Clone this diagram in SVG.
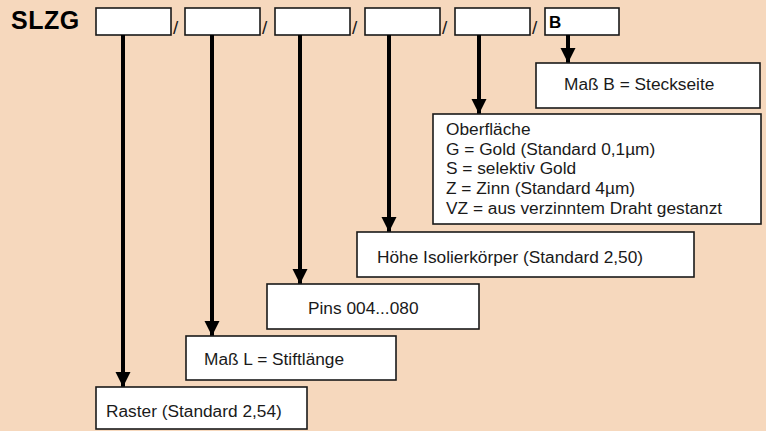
<svg xmlns="http://www.w3.org/2000/svg" width="766" height="431" viewBox="0 0 766 431">
<style>
.box{fill:#fff;stroke:#1a1a1a;stroke-width:1.6}
.t{font-family:"Liberation Sans",Arial,sans-serif;font-size:17.3px;fill:#1a1a1a}
.s{font-family:"Liberation Sans",Arial,sans-serif;font-size:19px;fill:#1a1a1a}
.b{font-family:"Liberation Sans",Arial,sans-serif;font-weight:bold;fill:#000}
.c{stroke:#000;stroke-width:4;fill:none;marker-end:url(#ah)}
</style>
<defs>
<marker id="ah" markerUnits="userSpaceOnUse" markerWidth="16" markerHeight="16" viewBox="0 0 16 16" refX="15" refY="8" orient="auto">
<path d="M0,0.5 L15,8 L0,15.5 Z" fill="#000"/>
</marker>
</defs>
<rect width="766" height="431" fill="#F6D8BD"/>
<g id="header">
<text class="b" x="11" y="29" font-size="25" letter-spacing="0.5">SLZG</text>
<rect class="box" x="96" y="8" width="75" height="27"/>
<rect class="box" x="185" y="8" width="75" height="27"/>
<rect class="box" x="275" y="8" width="75" height="27"/>
<rect class="box" x="365" y="8" width="75" height="27"/>
<rect class="box" x="455" y="8" width="75" height="27"/>
<rect class="box" x="545" y="8" width="74" height="27"/>
<text class="s" x="173" y="34">/</text>
<text class="s" x="262" y="34">/</text>
<text class="s" x="352" y="34">/</text>
<text class="s" x="442" y="34">/</text>
<text class="s" x="532" y="34">/</text>
<text class="b" x="549" y="28" font-size="17">B</text>
</g>
<g id="connectors">
<line class="c" x1="123" y1="35" x2="123" y2="387"/>
<line class="c" x1="212" y1="35" x2="212" y2="336"/>
<line class="c" x1="300" y1="35" x2="300" y2="284"/>
<line class="c" x1="389" y1="35" x2="389" y2="232"/>
<line class="c" x1="479" y1="35" x2="479" y2="114"/>
<line class="c" x1="568" y1="35" x2="568" y2="63"/>
</g>
<g id="n-massb">
<rect class="box" x="536" y="63" width="224" height="45"/>
<text class="t" x="564" y="90">Maß B = Steckseite</text>
</g>
<g id="n-oberflaeche">
<rect class="box" x="433" y="114" width="328" height="110"/>
<text class="t" x="446" y="135">Oberfläche</text>
<text class="t" x="446" y="155">G = Gold (Standard 0,1µm)</text>
<text class="t" x="446" y="174">S = selektiv Gold</text>
<text class="t" x="446" y="194">Z = Zinn (Standard 4µm)</text>
<text class="t" x="446" y="214">VZ = aus verzinntem Draht gestanzt</text>
</g>
<g id="n-hoehe">
<rect class="box" x="357" y="232" width="337" height="45"/>
<text class="t" x="377" y="263">Höhe Isolierkörper (Standard 2,50)</text>
</g>
<g id="n-pins">
<rect class="box" x="267" y="284" width="212" height="45"/>
<text class="t" x="308" y="314">Pins 004...080</text>
</g>
<g id="n-massl">
<rect class="box" x="186" y="336" width="210" height="44"/>
<text class="t" x="204" y="365">Maß L = Stiftlänge</text>
</g>
<g id="n-raster">
<rect class="box" x="96" y="387" width="211" height="42"/>
<text class="t" x="106" y="417">Raster (Standard 2,54)</text>
</g>
</svg>
